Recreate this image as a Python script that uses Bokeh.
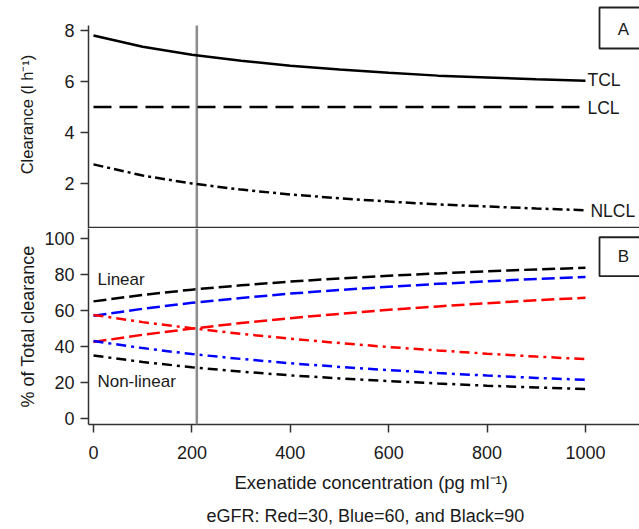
from bokeh.plotting import figure
from bokeh.layouts import column
from bokeh.models import Range1d, Span, BoxAnnotation, Label, Title, FixedTicker
from bokeh.embed import file_html
from bokeh.resources import INLINE

# ---------------- data ----------------
conc = [0, 100, 200, 300, 400, 500, 600, 700, 800, 900, 1000]

# Panel A: clearance (l/h)
tcl = [7.80, 7.36, 7.05, 6.81, 6.62, 6.47, 6.34, 6.23, 6.16, 6.09, 6.03]
lcl = [5.0, 5.0, 5.0, 5.0, 5.0, 5.0, 5.0, 5.0, 5.0, 5.0, 5.0]
nlcl = [2.75, 2.31, 2.00, 1.76, 1.57, 1.42, 1.29, 1.18, 1.10, 1.02, 0.95]

# Panel B: % of total clearance, by eGFR
lin_red = [42.5, 46.5, 49.9, 53.0, 55.7, 58.1, 60.3, 62.2, 64.0, 65.6, 67.0]
lin_blue = [57.0, 60.9, 64.2, 66.9, 69.3, 71.3, 73.1, 74.7, 76.1, 77.4, 78.5]
lin_black = [65.0, 68.6, 71.5, 73.9, 76.0, 77.7, 79.2, 80.5, 81.7, 82.7, 83.6]
nl_red = [57.5, 53.5, 50.1, 47.0, 44.3, 41.9, 39.7, 37.8, 36.0, 34.4, 33.0]
nl_blue = [43.0, 39.1, 35.8, 33.1, 30.7, 28.7, 26.9, 25.3, 23.9, 22.6, 21.5]
nl_black = [35.0, 31.4, 28.5, 26.1, 24.0, 22.3, 20.8, 19.5, 18.3, 17.3, 16.4]

ref_conc = 210
x_ticks = [0, 200, 400, 600, 800, 1000]
a_ticks = [2, 4, 6, 8]
b_ticks = [0, 20, 40, 60, 80, 100]

FONT = "Liberation Sans"
TXT = "#1a1a1a"
AX = "#333333"
GREY = "#8c8c8c"

xr = Range1d(-10.16, 1109.8)


def style_axis(ax, ticks, size="18px"):
    ax.ticker = FixedTicker(ticks=ticks)
    ax.minor_tick_line_color = None
    ax.major_tick_in = 0
    ax.major_tick_out = 8
    ax.major_tick_line_color = AX
    ax.major_tick_line_width = 1.5
    ax.axis_line_color = AX
    ax.axis_line_width = 1.5
    ax.major_label_text_font = FONT
    ax.major_label_text_font_size = size
    ax.major_label_text_color = TXT
    ax.major_label_standoff = 6
    ax.axis_label_text_font = FONT
    ax.axis_label_text_font_size = "18px"
    ax.axis_label_text_font_style = "normal"
    ax.axis_label_text_color = TXT


# ---------------- Panel A ----------------
a_lo, a_hi, a_axis_top = 0.2353, 9.176, 8.196
pA = figure(width=639, height=228, x_range=xr, y_range=Range1d(a_lo, a_hi),
            output_backend="svg", toolbar_location=None,
            min_border_left=88, min_border_right=0, min_border_top=0, min_border_bottom=0)
pA.xaxis.visible = False
pA.grid.visible = False
pA.outline_line_color = None
style_axis(pA.yaxis[0], a_ticks)
pA.yaxis.bounds = (a_lo, a_axis_top)
pA.yaxis.axis_label = "Clearance (l h\u207b\u00b9)"
pA.yaxis.axis_label_text_font_size = "16.5px"
pA.yaxis.axis_label_standoff = 25

pA.segment(x0=[ref_conc], y0=[a_lo], x1=[ref_conc], y1=[a_axis_top], line_color=GREY, line_width=2.5)
pA.line(conc, tcl, line_color="black", line_width=2.5)
pA.line(conc, lcl, line_color="black", line_width=2.5, line_dash="18 8")
pA.line(conc, nlcl, line_color="black", line_width=2.5, line_dash="10 4 3 4")
pA.add_layout(Span(location=0.2745, dimension="width", line_color=AX, line_width=1.5))

for txt, xx, yy in [("TCL", 1004, 6.04), ("LCL", 1004, 4.98), ("NLCL", 1010, 0.94)]:
    pA.add_layout(Label(x=xx, y=yy, text=txt, text_font=FONT, text_font_size="17.5px",
                        text_color=TXT, text_baseline="middle", text_align="left"))
pA.add_layout(BoxAnnotation(left=1028.5, right=1300, top=8.902, bottom=7.294,
                            fill_color=None, fill_alpha=0, line_color="#222222",
                            line_alpha=1.0, line_width=1.8))
pA.add_layout(Label(x=1077, y=8.04, text="A", text_font=FONT, text_font_size="17px",
                    text_color=TXT, text_baseline="middle", text_align="center"))

# ---------------- Panel B ----------------
b_lo, b_hi = -3.226, 105.38
pB = figure(width=639, height=301, x_range=xr, y_range=Range1d(b_lo, b_hi),
            output_backend="svg", toolbar_location=None,
            min_border_left=88, min_border_right=0, min_border_top=0, min_border_bottom=99)
pB.grid.visible = False
pB.outline_line_color = None
style_axis(pB.yaxis[0], b_ticks)
style_axis(pB.xaxis[0], x_ticks)
pB.xaxis.major_label_standoff = 13
pB.yaxis.axis_label = "% of Total clearance"
pB.yaxis.axis_label_standoff = 3

pB.add_layout(Span(location=ref_conc, dimension="height", line_color=GREY, line_width=2.5))
for ys, col in [(lin_black, "black"), (lin_blue, "blue"), (lin_red, "red")]:
    pB.line(conc, ys, line_color=col, line_width=2.5, line_dash="13 5")
for ys, col in [(nl_red, "red"), (nl_blue, "blue"), (nl_black, "black")]:
    pB.line(conc, ys, line_color=col, line_width=2.5, line_dash="10 5 3 5")

pB.add_layout(Label(x=8, y=76.9, text="Linear", text_font=FONT, text_font_size="17px",
                    text_color=TXT, text_baseline="middle", text_align="left"))
pB.add_layout(Label(x=8, y=20.4, text="Non-linear", text_font=FONT, text_font_size="17px",
                    text_color=TXT, text_baseline="middle", text_align="left"))
pB.add_layout(BoxAnnotation(left=1028.5, right=1300, top=100.54, bottom=79.03,
                            fill_color=None, fill_alpha=0, line_color="#222222",
                            line_alpha=1.0, line_width=1.8))
pB.add_layout(Label(x=1077, y=89.8, text="B", text_font=FONT, text_font_size="17px",
                    text_color=TXT, text_baseline="middle", text_align="center"))

pB.add_layout(Title(text="Exenatide concentration (pg ml\u207b\u00b9)", align="left", offset=146,
                    text_font=FONT, text_font_size="18.5px", text_font_style="normal",
                    text_color=TXT, standoff=16), "below")
pB.add_layout(Title(text="eGFR: Red=30, Blue=60, and Black=90", align="left", offset=118,
                    text_font=FONT, text_font_size="18px", text_font_style="normal",
                    text_color=TXT, standoff=7), "below")

layout = column(pA, pB, spacing=0)
open("out.html", "w").write(file_html(layout, INLINE))
